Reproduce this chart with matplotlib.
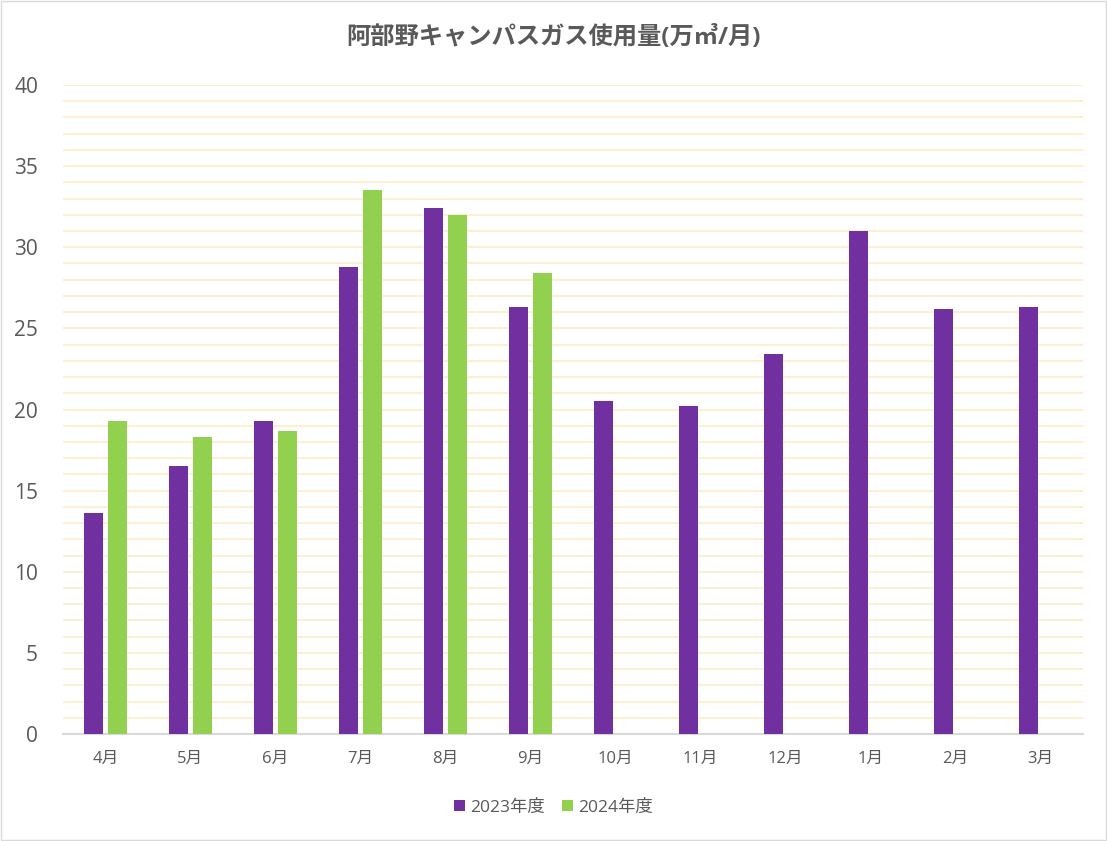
import matplotlib
matplotlib.use("Agg")
import matplotlib.pyplot as plt
import numpy as np

months = ["4月", "5月", "6月", "7月", "8月", "9月", "10月", "11月", "12月", "1月", "2月", "3月"]
fy2023 = [13.6, 16.5, 19.3, 28.8, 32.4, 26.3, 20.5, 20.2, 23.4, 31.0, 26.2, 26.3]
fy2024 = [19.3, 18.3, 18.7, 33.5, 32.0, 28.4]

# 数字は Open Sans、漢字・カナは Noto Sans CJK JP
plt.rcParams['font.family'] = ['Open Sans', 'Noto Sans CJK JP', 'DejaVu Sans']

fig = plt.figure(figsize=(11.07, 8.41), dpi=100)
ax = fig.add_axes([63 / 1107, 1 - 734 / 841, (1083 - 63) / 1107, (734 - 85) / 841])

x = np.arange(len(months))
w = 0.225
ax.bar(x - 0.141, fy2023, width=w, color="#7030A0", label="2023年度", zorder=3)
ax.bar(x[:len(fy2024)] + 0.141, fy2024, width=w, color="#92D050", label="2024年度", zorder=3)

ax.set_xlim(-0.5, len(months) - 0.5)
ax.set_ylim(0, 40)
ax.set_yticks(np.arange(0, 41, 5))
ax.set_yticks(np.arange(0, 41, 1), minor=True)
ax.grid(axis="y", which="both", color="#FCEFD2", linewidth=1.5, zorder=0)
ax.set_xticks(x)
ax.set_xticklabels(months)
ax.tick_params(axis="y", which="both", length=0, pad=18, labelsize=15, labelcolor="#595959")
ax.tick_params(axis="x", length=0, pad=12, labelsize=12, labelcolor="#595959")
for s in ["top", "right", "left"]:
    ax.spines[s].set_visible(False)
ax.spines["bottom"].set_color("#D9D9D9")
ax.spines["bottom"].set_linewidth(1.5)

fig.suptitle("阿部野キャンパスガス使用量(万㎥/月)", y=1 - 38 / 841, fontsize=17.5,
             fontweight="bold", color="#595959", va="center")

fig.legend(loc="center", bbox_to_anchor=(0.5, 1 - 808 / 841), ncol=2, frameon=False,
           fontsize=12.5, labelcolor="#595959", handlelength=0.6, handleheight=0.6,
           handletextpad=0.3, columnspacing=1.0)

fig.patches.append(plt.Rectangle((0.001, 0.001), 0.998, 0.998, transform=fig.transFigure,
                                 fill=False, edgecolor="#D9D9D9", linewidth=1))

fig.savefig("out.png", dpi=100)
